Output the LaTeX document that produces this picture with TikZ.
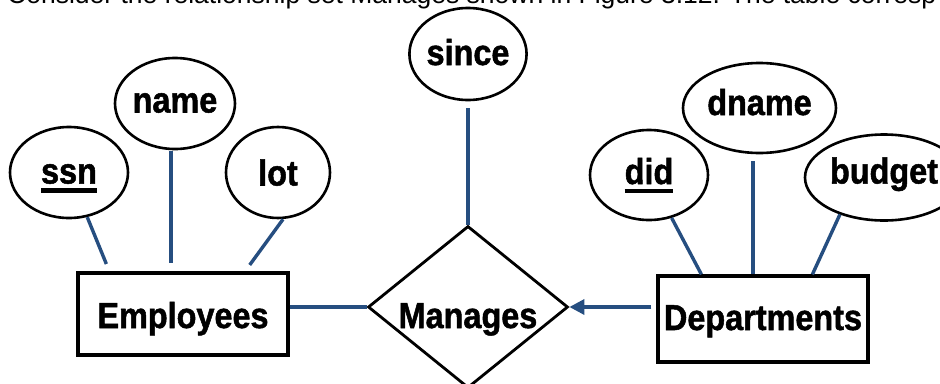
\documentclass[tikz,border=0pt]{standalone}
\usepackage{fontspec}
\setmainfont{Liberation Sans}
\newfontfamily\erfont{Liberation Sans}[FakeStretch=0.9,FakeBold=1.4]
\usetikzlibrary{shapes.geometric,arrows.meta,calc}
\definecolor{linkblue}{RGB}{38,78,128}
% key attribute: text with a heavy underline
\newcommand\keyattr[1]{\setbox0\hbox{#1}\rlap{\rule[-9pt]{\wd0}{4.5pt}}\box0}
\tikzset{
  erfont/.style={font=\erfont\bfseries\fontsize{36}{40}\selectfont},
  attr/.style={ellipse, draw, line width=2.6pt, inner sep=0pt, erfont, text depth=0pt},
  entity/.style={rectangle, draw, line width=3.2pt, inner sep=0pt, erfont, text depth=0pt},
  rel/.style={diamond, draw, line width=2.8pt, inner sep=0pt, aspect=1.235, erfont, text depth=0pt},
  link/.style={draw=linkblue, line width=3.4pt},
}
\begin{document}
\begin{tikzpicture}[x=1pt,y=-1pt]
\useasboundingbox (0,0) rectangle (940,383);
\clip (0,0) rectangle (940,383);

% running text line above the diagram
\node[anchor=base west, inner sep=0pt, font=\fontsize{26.5}{30}\selectfont] (caption) at (7,3.5)
  {Consider the relationship set Manages shown in Figure 3.12. The table corresp};

% Employees and its attributes
\node[entity, minimum width=210pt, minimum height=82pt, text height=28pt] (emp) at (183,314) {Employees};
\node[attr, minimum width=118pt, minimum height=91pt, text height=22pt] (ssn) at (69,172.5) {\keyattr{ssn}};
\node[attr, minimum width=120pt, minimum height=91pt, text height=18pt] (name) at (175,103.5) {name};
\node[attr, minimum width=104pt, minimum height=91pt, text height=26pt] (lot) at (278,172.5) {lot};

% relationship
\node[rel, minimum width=200pt, minimum height=162pt, text height=42pt] (man) at (468,307) {Manages};
\node[attr, minimum width=108pt, minimum height=92pt, text height=22pt] (since) at (468,54) {since};

% Departments and its attributes
\node[entity, minimum width=210pt, minimum height=86pt, text height=22pt] (dept) at (763,319) {Departments};
\node[attr, minimum width=118pt, minimum height=90pt, text height=18pt] (did) at (649,175) {\keyattr{did}};
\node[attr, minimum width=153pt, minimum height=90pt, text height=14pt] (dname) at (759.5,108) {dname};
\node[attr, minimum width=158pt, minimum height=86pt, text height=12pt] (budget) at (884,177.5) {budget};

% attribute links
\draw[link, shorten >=8pt] (ssn) -- ([xshift=33pt]emp.north west);
\draw[link, shorten <=1pt, shorten >=8pt] ([xshift=-4pt]name.south) -- ([xshift=-4pt]name.south |- emp.north);
\draw[link, shorten >=8pt] ([xshift=5pt]lot.south) -- ([xshift=62pt]emp.north);
\draw[link, shorten <=7pt] (since) -- (man);
\draw[link] (did) -- ([xshift=45pt]dept.north west);
\draw[link, shorten <=7pt] ([xshift=-6.5pt]dname.south) -- ([xshift=-6.5pt]dname.south |- dept.north);
\draw[link] (budget.220) -- ([xshift=156pt]dept.north west);

% relationship links
\draw[link] (emp.east |- man.west) -- (man.west);
\draw[link, -{Triangle[length=15pt,width=15pt]}, shorten <=5pt] (dept.west |- man.east) -- (man.east);
\end{tikzpicture}
\end{document}
